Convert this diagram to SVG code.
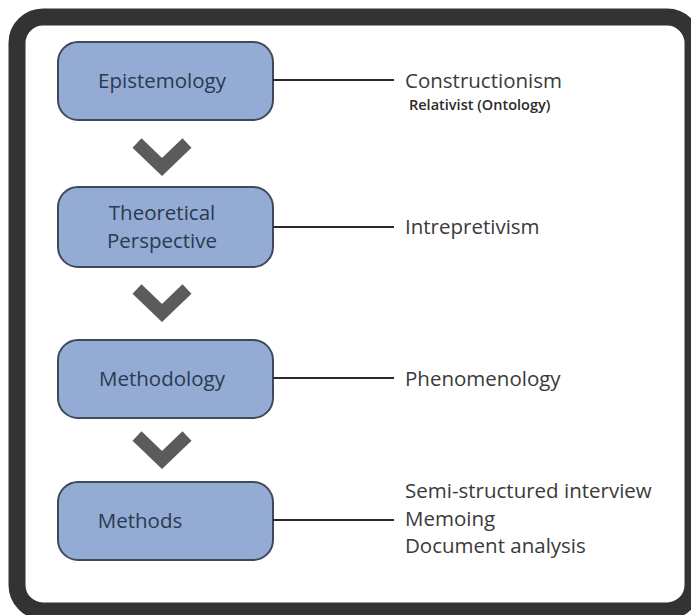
<svg xmlns="http://www.w3.org/2000/svg" width="691" height="615" viewBox="0 0 691 615">
<style>
.frame{fill:#ffffff;stroke:#333333;stroke-width:17}
.box rect{fill:#94acd4;stroke:#3e4a5c;stroke-width:2}
.box text{font-family:"Open Sans","Liberation Sans",sans-serif;font-size:20.5px;fill:#2b3950;text-anchor:middle}
.chev{fill:none;stroke:#5b5b5b;stroke-width:13}
.conn line{stroke:#2a2a2a;stroke-width:2}
.lbl{font-family:"Open Sans","Liberation Sans",sans-serif;font-size:20.5px;fill:#3a3a3a}
.sub{font-family:"Open Sans","Liberation Sans",sans-serif;font-size:14.5px;font-weight:600;fill:#2a2a2a}
</style>
<rect class="frame" x="17" y="17" width="676" height="594" rx="26"/>
<g id="epistemology" class="box"><rect x="58" y="42" width="215" height="78" rx="20"/><text x="162" y="88">Epistemology</text></g>
<g id="theoretical" class="box"><rect x="58" y="187" width="215" height="80" rx="20"/><text x="162" y="220">Theoretical</text><text x="162" y="248">Perspective</text></g>
<g id="methodology" class="box"><rect x="58" y="340" width="215" height="78" rx="20"/><text x="162" y="386">Methodology</text></g>
<g id="methods" class="box"><rect x="58" y="482" width="215" height="78" rx="20"/><text x="140" y="528">Methods</text></g>
<g id="chevrons">
<polyline class="chev" points="137,143 162,167 187,143"/>
<polyline class="chev" points="137,289 162,313 187,289"/>
<polyline class="chev" points="137,436 162,460 187,436"/>
</g>
<g id="connectors" class="conn">
<line x1="273" y1="80" x2="394" y2="80"/>
<line x1="273" y1="227" x2="394" y2="227"/>
<line x1="273" y1="378" x2="394" y2="378"/>
<line x1="273" y1="520" x2="394" y2="520"/>
</g>
<g id="labels">
<text class="lbl" x="405" y="88">Constructionism</text>
<text class="sub" x="409" y="110">Relativist (Ontology)</text>
<text class="lbl" x="405" y="234">Intrepretivism</text>
<text class="lbl" x="405" y="386">Phenomenology</text>
<text class="lbl" x="405" y="498">Semi-structured interview</text>
<text class="lbl" x="405" y="526">Memoing</text>
<text class="lbl" x="405" y="553">Document analysis</text>
</g>
</svg>
